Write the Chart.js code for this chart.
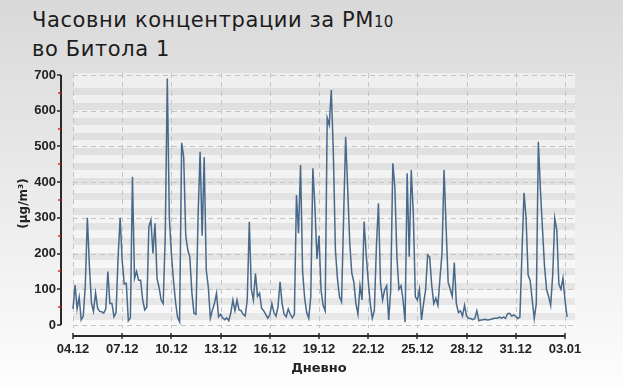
<!DOCTYPE html>
<html><head><meta charset="utf-8">
<script src="https://cdn.jsdelivr.net/npm/chart.js@4.4.1/dist/chart.umd.min.js"></script>
<style>
html,body{margin:0;padding:0;}
body{width:623px;height:386px;overflow:hidden;background:linear-gradient(#d9d9d9,#fdfdfd);position:relative;}
#title{position:absolute;left:32px;top:7px;font-family:"DejaVu Sans";font-size:21px;letter-spacing:0.6px;line-height:27px;color:#1c1c1c;white-space:nowrap;}
#title .sub{font-size:15px;letter-spacing:0;}
canvas{position:absolute;left:0;top:0;}
</style></head><body>
<div id="title">Часовни концентрации за PM<span class="sub">10</span><br>во Битола 1</div>
<canvas id="c" width="623" height="386"></canvas>
<script>
const STEP_HOURS = 3;
const tickHours = [0,72,144,216,288,360,432,504,576,648,720];
const tickLabels = ['04.12','07.12','10.12','13.12','16.12','19.12','22.12','25.12','28.12','31.12','03.01'];
const yTicks = [0,100,200,300,400,500,600,700];
const yMinor = [50,150,250,350,450,550,650];
const yTitle = '(µg/m³)';
const xTitle = 'Дневно';
const pm10 = [
  45,112,45,78,14,25,110,300,
  165,62,38,90,47,38,37,33,
  45,150,60,60,23,35,190,300,
  180,115,117,12,20,415,130,150,
  125,125,70,42,50,275,294,200,
  285,130,105,70,60,250,690,300,
  200,126,65,22,9,510,470,250,
  210,190,90,33,30,300,485,250,
  470,154,107,19,42,60,89,23,
  30,20,15,20,12,35,70,40,
  70,42,40,30,25,70,289,100,
  70,145,80,89,47,40,30,19,
  28,60,35,25,51,121,60,30,
  23,45,30,20,30,364,257,448,
  150,75,35,19,80,439,331,185,
  250,98,55,40,580,560,658,480,
  210,130,79,65,300,527,380,229,
  145,120,60,30,110,70,290,200,
  125,60,19,40,219,341,117,70,
  98,110,14,100,453,387,191,100,
  110,70,8,425,191,434,313,79,
  70,100,14,60,98,196,190,110,
  60,75,55,130,200,434,275,120,
  100,80,175,60,35,40,25,55,
  25,19,18,15,18,40,12,14,
  15,16,14,15,16,18,19,19,
  22,19,22,19,32,33,25,28,
  24,18,22,200,370,300,140,125,
  70,18,60,513,380,270,165,100,
  80,55,140,299,266,115,100,131,
  70,23
];

const deco = {
  id: 'deco',
  beforeDatasetsDraw(chart) {
    const {ctx, chartArea: ca, scales: {x, y}} = chart;
    const x0 = x.getPixelForValue(0), x1 = ca.right - 2;
    const yT = ca.top + 2, yB = y.getPixelForValue(-9);
    ctx.save();
    const g = ctx.createLinearGradient(0, yT, 0, yB);
    g.addColorStop(0, '#eeeeee');
    g.addColorStop(1, '#f9f9f9');
    ctx.fillStyle = g;
    ctx.fillRect(x0, yT, x1 - x0, yB - yT);
    ctx.fillStyle = 'rgba(0,0,0,0.065)';
    for (let s = yT + 15; s < yB - 5; s += 15) ctx.fillRect(x0, s, x1 - x0, 7);
    ctx.setLineDash([5, 4]);
    ctx.strokeStyle = '#c4c4c4';
    ctx.lineWidth = 1;
    yTicks.forEach(v => {
      const p = Math.round(y.getPixelForValue(v)) + 0.5;
      ctx.beginPath(); ctx.moveTo(x0, p); ctx.lineTo(x1, p); ctx.stroke();
    });
    tickHours.forEach(h => {
      const p = Math.round(x.getPixelForValue(h)) + 0.5;
      ctx.beginPath(); ctx.moveTo(p, yT); ctx.lineTo(p, yB); ctx.stroke();
    });
    ctx.restore();
  },
  afterDraw(chart) {
    const {ctx, chartArea: ca, scales: {x, y}} = chart;
    ctx.save();
    ctx.strokeStyle = '#2a2a2a';
    ctx.lineWidth = 2;
    const ax = Math.round(ca.left);
    ctx.beginPath();
    ctx.moveTo(ax, y.getPixelForValue(700)); ctx.lineTo(ax, y.getPixelForValue(0));
    ctx.stroke();
    ctx.lineWidth = 1.5;
    yTicks.forEach(v => {
      const p = Math.round(y.getPixelForValue(v));
      ctx.beginPath(); ctx.moveTo(ax - 4, p); ctx.lineTo(ax, p); ctx.stroke();
    });
    ctx.strokeStyle = '#e02020';
    yMinor.forEach(v => {
      const p = Math.round(y.getPixelForValue(v));
      ctx.beginPath(); ctx.moveTo(ax - 3, p); ctx.lineTo(ax, p); ctx.stroke();
    });
    ctx.strokeStyle = '#2a2a2a';
    ctx.lineWidth = 2;
    const bx = Math.round(ca.bottom);
    ctx.beginPath();
    ctx.moveTo(x.getPixelForValue(0), bx); ctx.lineTo(x.getPixelForValue(720), bx);
    ctx.stroke();
    ctx.lineWidth = 1.5;
    tickHours.forEach(h => {
      const p = Math.round(x.getPixelForValue(h));
      ctx.beginPath(); ctx.moveTo(p, bx - 3); ctx.lineTo(p, bx + 3); ctx.stroke();
    });
    ctx.restore();
  }
};

new Chart(document.getElementById('c'), {
  type: 'line',
  data: {
    datasets: [{
      data: pm10.map((v, i) => ({x: i * STEP_HOURS, y: v})),
      borderColor: '#48698a',
      borderWidth: 1.5,
      pointRadius: 0,
      fill: false,
      tension: 0
    }]
  },
  options: {
    responsive: false,
    animation: false,
    devicePixelRatio: 1,
    layout: {padding: {top: 71, right: 46, bottom: 0, left: 0}},
    plugins: {legend: {display: false}, tooltip: {enabled: false}, title: {display: false}},
    scales: {
      x: {
        type: 'linear', min: -17.56, max: 737.56,
        grid: {display: false, drawTicks: false},
        border: {display: false},
        afterBuildTicks: s => { s.ticks = tickHours.map(v => ({value: v})); },
        afterFit: s => { s.height = 50; },
        ticks: {
          callback: (v, i) => tickLabels[i], padding: 6, maxRotation: 0, autoSkip: false,
          color: '#222', font: {family: 'Liberation Sans', size: 13, weight: 'bold'}
        },
        title: {display: true, text: xTitle, color: '#222',
          font: {family: 'DejaVu Sans', size: 13, weight: 'bold'}, padding: {top: 0, bottom: 10}}
      },
      y: {
        type: 'linear', min: -30.8, max: 711.2,
        grid: {display: false, drawTicks: false},
        border: {display: false},
        afterBuildTicks: s => { s.ticks = yTicks.map(v => ({value: v})); },
        afterFit: s => { s.width = 61; },
        ticks: {
          padding: 5, color: '#222', font: {family: 'Liberation Sans', size: 13, weight: 'bold'}
        },
        title: {display: true, text: yTitle, color: '#222',
          font: {family: 'DejaVu Sans', size: 12, weight: 'bold'}, padding: {top: 17, bottom: 0}}
      }
    }
  },
  plugins: [deco]
});
</script></body></html>
